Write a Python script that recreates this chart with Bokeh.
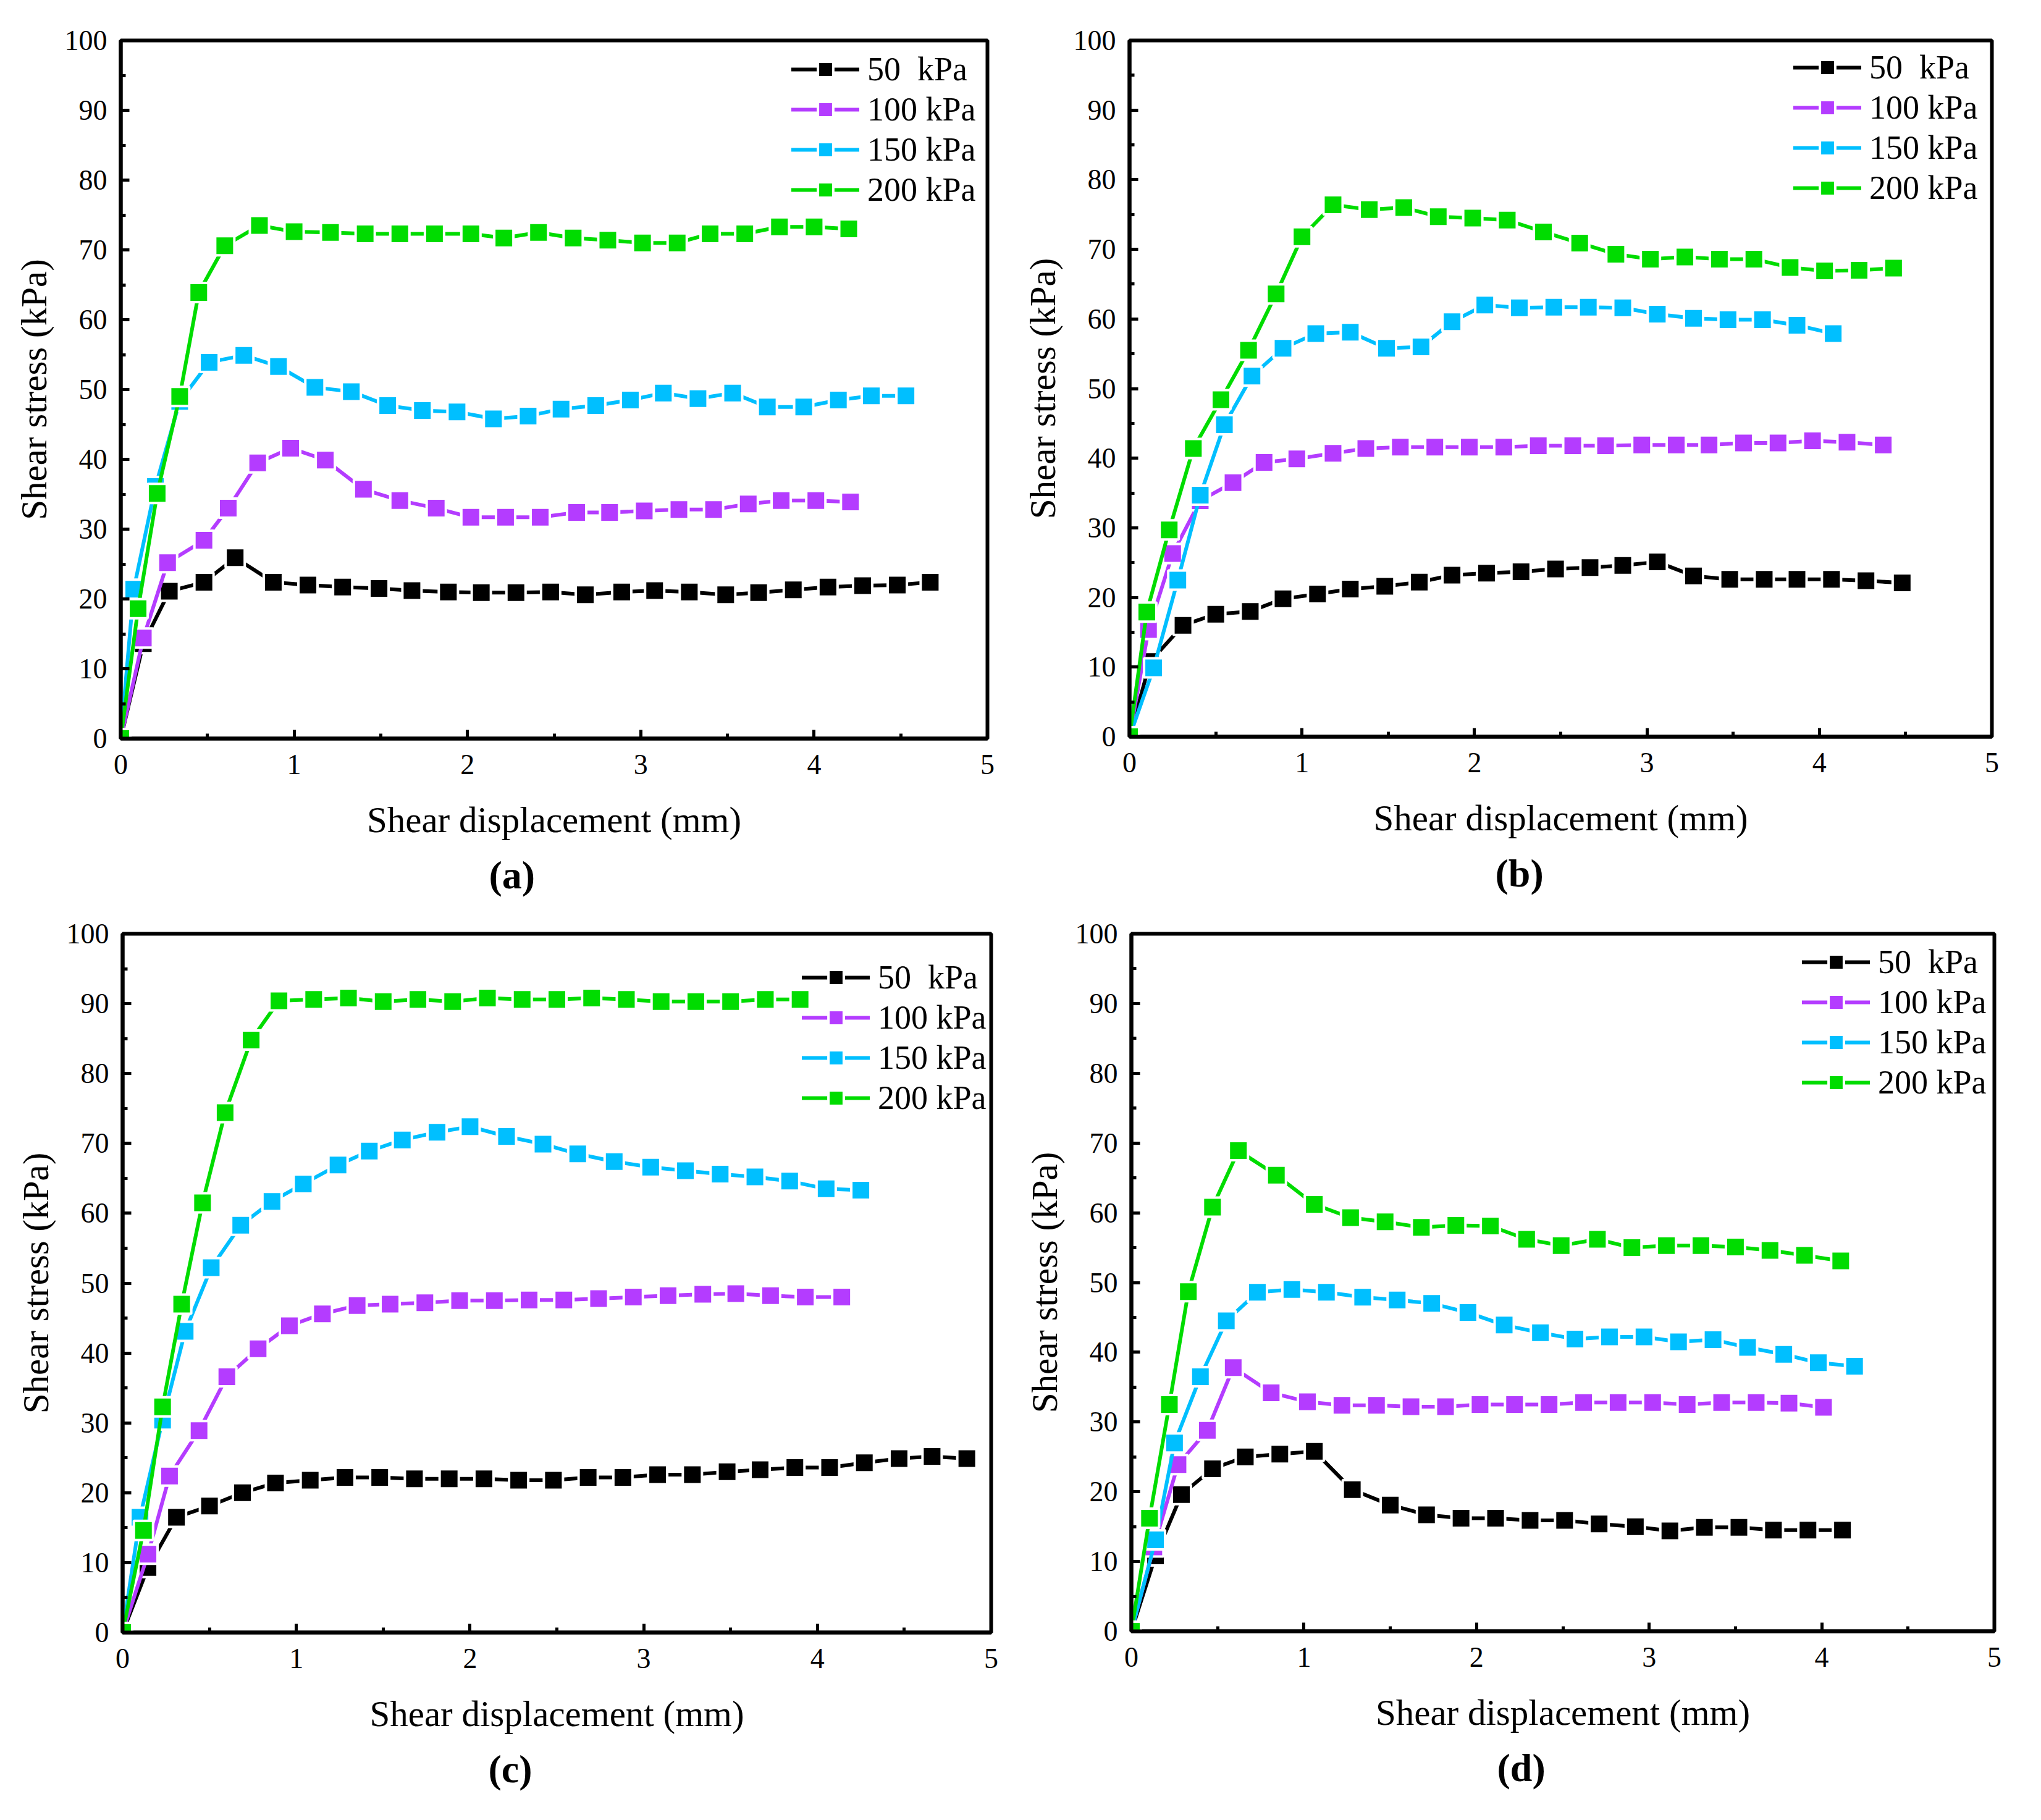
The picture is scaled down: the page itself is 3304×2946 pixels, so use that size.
from bokeh.plotting import figure
from bokeh.models import Range1d, Legend, LegendItem, Title, FixedTicker
from bokeh.layouts import column, row
from bokeh.embed import file_html
from bokeh.resources import INLINE

# ---------------- data ----------------
series_labels = ["50  kPa", "100 kPa", "150 kPa", "200 kPa"]
series_colors = ["#000000", "#B43CFF", "#00BFFF", "#00DC00"]

x_ticks = [0, 1, 2, 3, 4, 5]
x_minor = [0.5, 1.5, 2.5, 3.5, 4.5]
y_ticks = [0, 10, 20, 30, 40, 50, 60, 70, 80, 90, 100]
y_minor = [5, 15, 25, 35, 45, 55, 65, 75, 85, 95]

# panel (a)
a50_x = [0, 0.13, 0.28, 0.48, 0.66, 0.88, 1.08, 1.28, 1.49, 1.68, 1.89, 2.08, 2.28, 2.48, 2.68, 2.89, 3.08, 3.28, 3.49, 3.68, 3.88, 4.08, 4.28, 4.48, 4.67]
a50_y = [0, 13.6, 21.1, 22.4, 25.9, 22.4, 22.0, 21.7, 21.5, 21.2, 21.0, 20.9, 20.9, 21.0, 20.6, 21.0, 21.2, 21.0, 20.6, 20.9, 21.3, 21.7, 21.9, 22.0, 22.4]
a100_x = [0, 0.13, 0.27, 0.48, 0.62, 0.79, 0.98, 1.18, 1.40, 1.61, 1.82, 2.02, 2.22, 2.42, 2.63, 2.82, 3.02, 3.22, 3.42, 3.62, 3.81, 4.01, 4.21]
a100_y = [0, 14.4, 25.2, 28.4, 33.0, 39.5, 41.6, 39.9, 35.7, 34.1, 33.0, 31.7, 31.7, 31.7, 32.4, 32.4, 32.6, 32.8, 32.8, 33.6, 34.1, 34.1, 33.9]
a150_x = [0, 0.075, 0.20, 0.34, 0.51, 0.71, 0.91, 1.12, 1.33, 1.54, 1.74, 1.94, 2.15, 2.35, 2.54, 2.74, 2.94, 3.13, 3.33, 3.53, 3.73, 3.94, 4.14, 4.33, 4.53]
a150_y = [0, 21.4, 36.1, 48.3, 53.9, 54.9, 53.3, 50.3, 49.7, 47.7, 47.0, 46.8, 45.8, 46.2, 47.2, 47.7, 48.5, 49.5, 48.7, 49.5, 47.5, 47.5, 48.5, 49.1, 49.1]
a200_x = [0, 0.10, 0.21, 0.34, 0.45, 0.60, 0.80, 1.00, 1.21, 1.41, 1.61, 1.81, 2.02, 2.21, 2.41, 2.61, 2.81, 3.01, 3.21, 3.40, 3.60, 3.80, 4.00, 4.20]
a200_y = [0, 18.6, 35.1, 49.0, 63.9, 70.6, 73.5, 72.6, 72.5, 72.3, 72.3, 72.3, 72.3, 71.7, 72.5, 71.7, 71.4, 71.0, 71.0, 72.3, 72.3, 73.3, 73.3, 73.0]

# panel (b)
b50_x = [0, 0.12, 0.31, 0.50, 0.70, 0.89, 1.09, 1.28, 1.48, 1.68, 1.87, 2.07, 2.27, 2.47, 2.67, 2.86, 3.06, 3.27, 3.48, 3.68, 3.87, 4.07, 4.27, 4.48]
b50_y = [0, 10.8, 16.0, 17.6, 18.0, 19.8, 20.5, 21.2, 21.6, 22.2, 23.2, 23.5, 23.7, 24.1, 24.3, 24.6, 25.1, 23.1, 22.6, 22.6, 22.6, 22.6, 22.4, 22.1]
b100_x = [0, 0.11, 0.25, 0.41, 0.60, 0.78, 0.97, 1.18, 1.37, 1.57, 1.77, 1.97, 2.17, 2.37, 2.57, 2.76, 2.97, 3.17, 3.36, 3.56, 3.76, 3.96, 4.16, 4.37]
b100_y = [0, 15.4, 26.3, 33.9, 36.5, 39.4, 39.9, 40.7, 41.4, 41.6, 41.6, 41.6, 41.6, 41.8, 41.8, 41.8, 41.9, 41.9, 41.9, 42.2, 42.2, 42.5, 42.3, 41.9]
b150_x = [0, 0.14, 0.28, 0.41, 0.55, 0.71, 0.89, 1.08, 1.28, 1.49, 1.69, 1.87, 2.06, 2.26, 2.46, 2.66, 2.86, 3.06, 3.27, 3.47, 3.67, 3.87, 4.08]
b150_y = [0, 9.9, 22.5, 34.7, 44.8, 51.8, 55.8, 57.9, 58.1, 55.8, 56.0, 59.6, 62.0, 61.6, 61.7, 61.7, 61.6, 60.7, 60.1, 59.9, 59.9, 59.1, 57.9]
b200_x = [0, 0.10, 0.23, 0.37, 0.53, 0.69, 0.85, 1.00, 1.18, 1.39, 1.59, 1.79, 1.99, 2.19, 2.40, 2.61, 2.82, 3.02, 3.22, 3.42, 3.62, 3.83, 4.03, 4.23, 4.43]
b200_y = [0, 17.9, 29.7, 41.4, 48.4, 55.5, 63.6, 71.8, 76.4, 75.7, 76.0, 74.7, 74.5, 74.2, 72.5, 70.9, 69.3, 68.6, 68.9, 68.6, 68.6, 67.4, 66.9, 67.0, 67.3]

# panel (c)
c50_x = [0, 0.146, 0.31, 0.50, 0.69, 0.88, 1.08, 1.28, 1.48, 1.68, 1.88, 2.08, 2.28, 2.48, 2.68, 2.88, 3.08, 3.28, 3.48, 3.67, 3.87, 4.07, 4.27, 4.47, 4.66, 4.86]
c50_y = [0, 9.3, 16.5, 18.1, 20.0, 21.4, 21.8, 22.2, 22.2, 22.0, 22.0, 22.0, 21.8, 21.8, 22.2, 22.2, 22.6, 22.6, 23.0, 23.3, 23.6, 23.6, 24.3, 24.9, 25.2, 24.9]
c100_x = [0, 0.146, 0.27, 0.44, 0.60, 0.78, 0.96, 1.15, 1.35, 1.54, 1.74, 1.94, 2.14, 2.34, 2.54, 2.74, 2.94, 3.14, 3.34, 3.53, 3.73, 3.93, 4.14]
c100_y = [0, 11.2, 22.4, 28.9, 36.6, 40.6, 43.9, 45.6, 46.8, 47.0, 47.2, 47.5, 47.5, 47.6, 47.6, 47.8, 48.0, 48.2, 48.4, 48.5, 48.2, 48.0, 48.0]
c150_x = [0, 0.10, 0.23, 0.36, 0.51, 0.68, 0.86, 1.04, 1.24, 1.42, 1.61, 1.81, 2.00, 2.21, 2.42, 2.62, 2.83, 3.04, 3.24, 3.44, 3.64, 3.84, 4.05, 4.25]
c150_y = [0, 16.5, 30.4, 43.1, 52.2, 58.3, 61.7, 64.2, 66.9, 68.9, 70.5, 71.6, 72.4, 71.0, 69.9, 68.5, 67.4, 66.6, 66.1, 65.6, 65.2, 64.6, 63.5, 63.3]
c200_x = [0, 0.12, 0.23, 0.34, 0.46, 0.59, 0.74, 0.90, 1.10, 1.30, 1.50, 1.70, 1.90, 2.10, 2.30, 2.50, 2.70, 2.90, 3.10, 3.30, 3.50, 3.70, 3.90]
c200_y = [0, 14.6, 32.3, 47.0, 61.5, 74.4, 84.8, 90.4, 90.6, 90.8, 90.3, 90.6, 90.3, 90.8, 90.6, 90.6, 90.8, 90.6, 90.3, 90.3, 90.3, 90.6, 90.6]

# panel (d)
d50_x = [0, 0.14, 0.29, 0.47, 0.66, 0.86, 1.06, 1.28, 1.50, 1.71, 1.91, 2.11, 2.31, 2.51, 2.71, 2.92, 3.12, 3.32, 3.52, 3.72, 3.92, 4.12]
d50_y = [0, 10.8, 19.6, 23.3, 25.0, 25.4, 25.8, 20.3, 18.1, 16.7, 16.2, 16.2, 15.9, 15.9, 15.4, 15.0, 14.4, 14.9, 14.9, 14.5, 14.5, 14.5]
d100_x = [0, 0.13, 0.27, 0.44, 0.59, 0.81, 1.02, 1.22, 1.42, 1.62, 1.82, 2.02, 2.22, 2.42, 2.62, 2.82, 3.02, 3.22, 3.42, 3.62, 3.81, 4.01]
d100_y = [0, 12.1, 23.9, 28.8, 37.8, 34.2, 32.9, 32.4, 32.4, 32.2, 32.2, 32.5, 32.5, 32.5, 32.8, 32.8, 32.8, 32.5, 32.8, 32.8, 32.7, 32.1]
d150_x = [0, 0.14, 0.25, 0.40, 0.55, 0.73, 0.93, 1.13, 1.34, 1.54, 1.74, 1.95, 2.16, 2.37, 2.57, 2.77, 2.97, 3.17, 3.37, 3.57, 3.78, 3.98, 4.19]
d150_y = [0, 13.1, 27.0, 36.5, 44.5, 48.6, 49.0, 48.6, 47.9, 47.5, 47.0, 45.7, 43.9, 42.8, 41.9, 42.2, 42.2, 41.5, 41.8, 40.7, 39.7, 38.5, 38.0]
d200_x = [0, 0.105, 0.22, 0.33, 0.47, 0.62, 0.84, 1.06, 1.27, 1.47, 1.68, 1.88, 2.08, 2.29, 2.49, 2.70, 2.90, 3.10, 3.30, 3.50, 3.70, 3.90, 4.11]
d200_y = [0, 16.2, 32.5, 48.7, 60.8, 68.9, 65.4, 61.2, 59.3, 58.7, 57.9, 58.2, 58.1, 56.2, 55.3, 56.2, 55.0, 55.3, 55.3, 55.1, 54.6, 53.9, 53.1]

panel_tags = ["(a)", "(b)", "(c)", "(d)"]

FONT = "Liberation Serif"


def make_panel(series, tag, fw, fh, bl, br, bt, bb, leg_xy, tag_offset):
    p = figure(frame_width=fw, frame_height=fh,
               x_range=Range1d(0, 5), y_range=Range1d(0, 100),
               output_backend="svg", toolbar_location=None,
               min_border_left=bl, min_border_right=br,
               min_border_top=bt, min_border_bottom=bb,
               background_fill_color="white", border_fill_color="white")
    p.xgrid.visible = False
    p.ygrid.visible = False
    p.outline_line_color = "black"
    p.outline_line_width = 6
    p.outline_line_alpha = 1.0

    p.xaxis.ticker = FixedTicker(ticks=x_ticks, minor_ticks=x_minor)
    p.yaxis.ticker = FixedTicker(ticks=y_ticks, minor_ticks=y_minor)
    for ax in (p.xaxis, p.yaxis):
        ax.axis_line_width = 6
        ax.axis_line_color = "black"
        ax.major_tick_in = 14
        ax.major_tick_out = 0
        ax.minor_tick_in = 8
        ax.minor_tick_out = 0
        ax.major_tick_line_width = 5
        ax.minor_tick_line_width = 5
        ax.major_tick_line_color = "black"
        ax.minor_tick_line_color = "black"
        ax.major_label_text_font = FONT
        ax.major_label_text_font_size = "46px"
        ax.major_label_text_color = "black"
        ax.axis_label_text_font = FONT
        ax.axis_label_text_font_size = "59px"
        ax.axis_label_text_font_style = "normal"
        ax.axis_label_text_color = "black"
    p.xaxis.axis_label = "Shear displacement (mm)"
    p.yaxis.axis_label = "Shear stress (kPa)"
    p.xaxis.major_label_standoff = 26
    p.xaxis.axis_label_standoff = 38
    p.yaxis.major_label_standoff = 22
    p.yaxis.axis_label_standoff = 14

    items = []
    for (xs, ys), lab, col in zip(series, series_labels, series_colors):
        lr = p.line(xs, ys, line_color=col, line_width=6, line_cap="round", line_join="round")
        sr = p.scatter(xs, ys, marker="square", size=31, fill_color=col,
                       line_color="white", line_width=4)
        items.append(LegendItem(label=lab, renderers=[lr, sr]))

    leg = Legend(items=items, location=leg_xy,
                 glyph_width=110, glyph_height=62, label_height=62,
                 label_standoff=13, spacing=3, padding=0, margin=0,
                 label_text_font=FONT, label_text_font_size="54px",
                 label_text_color="black",
                 border_line_alpha=0, background_fill_alpha=0)
    p.add_layout(leg, "center")

    t = Title(text=tag, align="left", offset=tag_offset, standoff=32,
              text_font=FONT, text_font_size="64px", text_font_style="bold",
              text_color="black")
    p.add_layout(t, "below")
    return p


pa = make_panel([(a50_x, a50_y), (a100_x, a100_y), (a150_x, a150_y), (a200_x, a200_y)],
                panel_tags[0], 1403, 1130, 195, 30, 57, 273, (1086, 857), 596)
pb = make_panel([(b50_x, b50_y), (b100_x, b100_y), (b150_x, b150_y), (b200_x, b200_y)],
                panel_tags[1], 1396, 1127, 200, 64, 65, 268, (1075, 857), 592)
pc = make_panel([(c50_x, c50_y), (c100_x, c100_y), (c150_x, c150_y), (c200_x, c200_y)],
                panel_tags[2], 1406, 1131, 198, 30, 45, 294, (1100, 834), 592)
pd = make_panel([(d50_x, d50_y), (d100_x, d100_y), (d150_x, d150_y), (d200_x, d200_y)],
                panel_tags[3], 1397, 1129, 197, 60, 47, 294, (1086, 857), 592)

layout = column(row(pa, pb), row(pc, pd))

with open("out.html", "w") as f:
    f.write(file_html(layout, INLINE))
